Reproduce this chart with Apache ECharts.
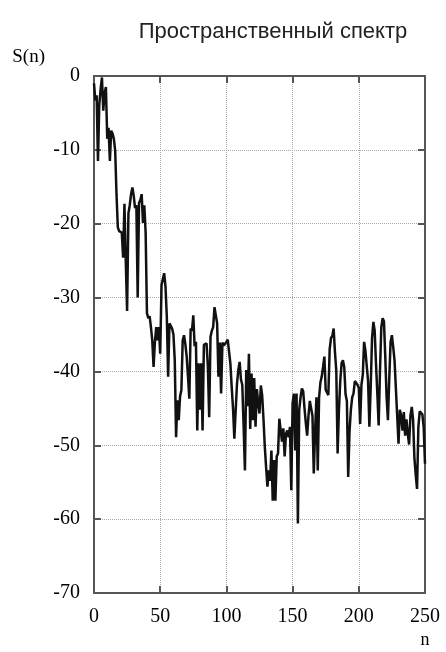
<!DOCTYPE html>
<html>
<head>
<meta charset="utf-8">
<title>Пространственный спектр</title>
<script src="https://cdn.jsdelivr.net/npm/echarts@6/dist/echarts.min.js"></script>
<style>
    html, body { margin: 0; padding: 0; background: #fff; }
    #chart { width: 446px; height: 652px; }
</style>
</head>
<body>
<div id="chart"></div>
<script>
// S(n) values for n = 0..250
var spectrum = [
    -1.0, -3.3, -2.6, -11.5, -3.8, -1.8, -0.2, -4.7, -2.3, -1.5,
    -8.5, -7.0, -11.5, -7.4, -7.8, -8.5, -10.1, -16.0, -20.5, -21.0,
    -21.0, -21.2, -24.6, -17.3, -25.1, -31.8, -18.6, -17.5, -16.0, -15.1,
    -16.2, -17.9, -17.5, -30.0, -17.2, -16.8, -16.0, -19.9, -17.5, -21.2,
    -32.1, -32.8, -32.5, -34.0, -35.8, -39.4, -36.0, -34.0, -35.8, -34.0,
    -37.6, -28.3, -27.5, -26.7, -28.5, -32.6, -40.7, -33.5, -33.7, -34.2,
    -35.0, -38.5, -48.9, -43.9, -46.6, -43.4, -42.5, -35.8, -35.1, -36.3,
    -38.0, -40.7, -43.7, -34.2, -34.5, -32.4, -36.6, -36.0, -48.0, -38.9,
    -45.2, -38.9, -48.0, -36.4, -36.2, -36.2, -39.3, -46.2, -35.3, -34.5,
    -34.0, -31.3, -31.2, -33.5, -40.7, -36.1, -43.0, -36.1, -36.5, -36.3,
    -36.0, -35.7, -37.3, -38.9, -42.1, -45.0, -49.1, -45.3, -41.7, -39.8,
    -38.7, -41.1, -41.8, -47.4, -53.4, -39.8, -44.7, -37.6, -47.8, -40.3,
    -46.6, -40.9, -47.5, -42.4, -44.2, -45.7, -41.9, -43.2, -46.4, -50.2,
    -53.0, -55.6, -53.4, -54.8, -50.7, -57.5, -52.0, -57.5, -51.5, -51.1,
    -46.4, -46.6, -49.5, -47.7, -51.5, -48.4, -48.0, -48.9, -47.5, -56.1,
    -44.3, -43.0, -50.7, -43.0, -60.6, -45.2, -43.5, -42.3, -42.7, -45.0,
    -47.0, -48.7, -46.0, -44.0, -44.2, -46.0, -53.8, -48.0, -43.5, -53.4,
    -43.5, -41.5, -40.7, -39.4, -38.0, -42.5, -42.5, -43.2, -37.0, -35.5,
    -35.2, -34.2, -37.4, -39.9, -51.1, -45.2, -41.3, -38.9, -38.5, -39.4,
    -43.1, -44.0, -54.3, -48.1, -45.2, -43.5, -43.0, -41.3, -41.3, -41.8,
    -42.2, -47.1, -41.8, -40.5, -36.0, -37.2, -37.4, -41.3, -47.5, -42.0,
    -35.5, -33.3, -34.5, -39.0, -43.0, -47.3, -40.0, -34.0, -32.8, -33.2,
    -38.0, -43.5, -46.6, -41.0, -36.0, -35.1, -36.7, -38.5, -42.3, -46.0,
    -49.8, -45.2, -46.0, -48.0, -45.5, -48.7, -46.5, -48.5, -49.9, -46.0,
    -44.8, -46.5, -51.7, -54.0, -55.9, -47.5, -45.4, -45.4, -45.8, -47.5,
    -52.5
];

var xTicks = [0, 250, 50];      // min, max, step
var yTicks = [-70, 0, 10];

var seriesData = [];
for (var n = 0; n < spectrum.length; n++)
    seriesData.push([n, spectrum[n]]);

var axisColor = '#555';
var labelFont = { fontFamily: 'Liberation Serif', fontSize: 20, color: '#000' };

function frameAxis(extra) {
    var base = {
        axisLine: { show: true, onZero: false, lineStyle: { color: axisColor, width: 2 } },
        axisTick: { show: true, inside: true, length: 7, lineStyle: { color: axisColor, width: 2 } },
        splitLine: { show: false },
        axisLabel: { show: false }
    };
    return Object.assign(base, extra);
}

var myChart = echarts.init(document.getElementById('chart'), null, { renderer: 'canvas' });

var option = {
    animation: false,
    backgroundColor: '#fff',
    title: {
        text: 'Пространственный спектр',
        left: 268,
        top: 16,
        textAlign: 'center',
        textStyle: { fontFamily: 'Liberation Sans', fontSize: 22, fontWeight: 'normal', color: '#222' }
    },
    grid: { left: 94, right: 21, top: 76, bottom: 59 },
    xAxis: [
        frameAxis({
            type: 'value', position: 'bottom',
            min: xTicks[0], max: xTicks[1], interval: xTicks[2],
            name: 'n', nameLocation: 'end', nameGap: 0,
            nameTextStyle: { fontFamily: 'Liberation Serif', fontSize: 18, color: '#000',
                align: 'center', verticalAlign: 'top', padding: [38, 0, 0, 0] },
            axisLabel: Object.assign({ show: true, margin: 14 }, labelFont),
            splitLine: { show: true, lineStyle: { color: '#aaa', type: 'dotted', width: 1 } }
        }),
        frameAxis({
            type: 'value', position: 'top',
            min: xTicks[0], max: xTicks[1], interval: xTicks[2]
        })
    ],
    yAxis: [
        frameAxis({
            type: 'value', position: 'left',
            min: yTicks[0], max: yTicks[1], interval: yTicks[2],
            name: 'S(n)', nameLocation: 'end', nameGap: 19,
            nameTextStyle: { fontFamily: 'Liberation Serif', fontSize: 19, color: '#000',
                align: 'right', verticalAlign: 'middle', padding: [0, 49, 0, 0] },
            axisLabel: Object.assign({ show: true, margin: 14 }, labelFont),
            splitLine: { show: true, lineStyle: { color: '#aaa', type: 'dotted', width: 1 } }
        }),
        frameAxis({
            type: 'value', position: 'right',
            min: yTicks[0], max: yTicks[1], interval: yTicks[2]
        })
    ],
    series: [{
        type: 'line',
        xAxisIndex: 0,
        yAxisIndex: 0,
        data: seriesData,
        showSymbol: false,
        lineStyle: { color: '#111', width: 2.5 },
        z: 3
    }]
};

myChart.setOption(option);
</script>
</body>
</html>
